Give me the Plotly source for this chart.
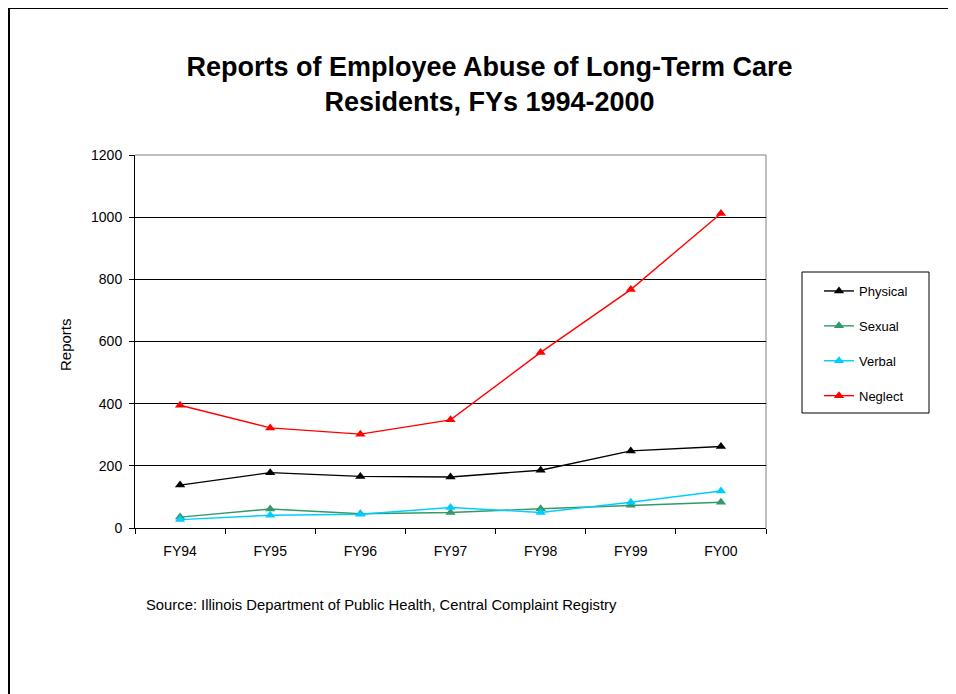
import plotly.graph_objects as go

# valori
YEARS = ["FY94", "FY95", "FY96", "FY97", "FY98", "FY99", "FY00"]
PHYSICAL = [138, 178, 166, 164, 186, 248, 262]
SEXUAL = [35, 61, 46, 50, 62, 73, 83]
VERBAL = [27, 41, 44, 66, 50, 83, 119]
NEGLECT = [395, 322, 302, 348, 565, 767, 1012]

SERIES = [
    ("Physical", PHYSICAL, "#000000"),
    ("Sexual", SEXUAL, "#339966"),
    ("Verbal", VERBAL, "#00CCFF"),
    ("Neglect", NEGLECT, "#FF0000"),
]

# la pagina html ha 8px di margine: tutte le posizioni sotto sono in pixel di pagina
OFF = 8
W, H = 956 - OFF, 694 - OFF
L, T = 135 - OFF, 155 - OFF
R, B = W - (766 - OFF), H - (528 - OFF)
FONT = "Liberation Sans, Arial, sans-serif"


def px_x(x):
    return (x - OFF - L) / (W - L - R)


def px_y(y):
    return (H - B - (y - OFF)) / (H - T - B)


fig = go.Figure()
for i, (name, vals, color) in enumerate(SERIES):
    fig.add_trace(go.Scatter(
        x=YEARS, y=vals, name=name, mode="lines+markers",
        line=dict(color=color, width=1.4),
        marker=dict(symbol="triangle-up", size=9, color=color),
        legendgroup=f"g{i}",
    ))

fig.update_layout(
    width=W, height=H,
    margin=dict(l=L, r=R, t=T, b=B),
    paper_bgcolor="white", plot_bgcolor="white",
    font=dict(family=FONT, size=14, color="black"),
    title=dict(
        text="<b>Reports of Employee Abuse of Long-Term Care<br>Residents, FYs 1994-2000</b>",
        x=(489.5 - OFF) / W, xanchor="center", y=1 - (76 - OFF) / H, yanchor="middle",
        font=dict(size=27, family=FONT),
    ),
    showlegend=True,
    legend=dict(
        x=px_x(819), y=px_y(276), xanchor="left", yanchor="top",
        borderwidth=0, bgcolor="rgba(0,0,0,0)",
        tracegroupgap=15, font=dict(size=13),
    ),
    xaxis=dict(
        type="category", showgrid=False, showline=True, linecolor="black", linewidth=1,
        ticks="outside", tickson="boundaries", ticklen=5, tickcolor="black",
        ticklabelstandoff=10, range=[-0.5, 6.5], zeroline=False,
    ),
    yaxis=dict(
        range=[0, 1200], dtick=200, showgrid=True, gridcolor="black", gridwidth=1,
        showline=True, linecolor="black", linewidth=1,
        ticks="outside", ticklen=5, tickcolor="black", ticklabelstandoff=4,
        zeroline=False,
    ),
    annotations=[
        dict(text="Reports", textangle=-90, x=px_x(65), y=px_y(345),
             xref="paper", yref="paper", xanchor="center", yanchor="middle",
             showarrow=False, font=dict(size=15)),
        dict(text="Source: Illinois Department of Public Health, Central Complaint Registry",
             x=px_x(144), y=px_y(605), xref="paper", yref="paper", xanchor="left",
             yanchor="middle", showarrow=False, font=dict(size=14.8)),
    ],
    shapes=[
        # bordo area del grafico (alto e destra grigi)
        dict(type="line", xref="paper", yref="paper", x0=0, x1=1, y0=1, y1=1,
             line=dict(color="#808080", width=1), layer="below"),
        dict(type="line", xref="paper", yref="paper", x0=1, x1=1, y0=0, y1=1,
             line=dict(color="#808080", width=1), layer="below"),
        # riquadro della legenda
        dict(type="rect", xref="paper", yref="paper", x0=px_x(802), x1=px_x(929),
             y0=px_y(413), y1=px_y(272), line=dict(color="black", width=1),
             fillcolor="white", layer="below"),
        # cornice della pagina
        dict(type="line", xref="paper", yref="paper", x0=px_x(9), x1=px_x(9),
             y0=px_y(8), y1=px_y(700), line=dict(color="black", width=2)),
        dict(type="line", xref="paper", yref="paper", x0=px_x(9), x1=px_x(960),
             y0=px_y(8), y1=px_y(8), line=dict(color="black", width=2)),
    ],
)

fig.write_html("out.html")
